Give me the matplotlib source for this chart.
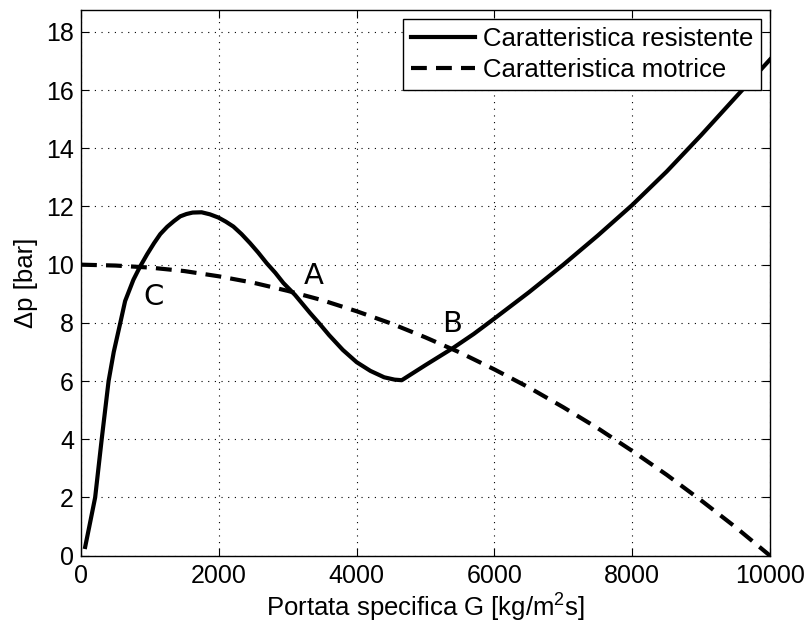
import matplotlib
matplotlib.use("Agg")
import matplotlib.pyplot as plt

plt.rcParams["font.family"] = ["Liberation Sans", "DejaVu Sans"]
plt.rcParams["mathtext.fontset"] = "custom"
plt.rcParams["mathtext.rm"] = "Liberation Sans"
plt.rcParams["mathtext.it"] = "Liberation Sans:italic"

# caratteristica resistente
g_res = [60, 120, 205, 300, 400, 475, 570, 640, 760, 856, 960, 1060, 1150,
         1250, 1350, 1440, 1530, 1620, 1750, 1870, 1993, 2100, 2211, 2330,
         2453, 2570, 2695, 2820, 2937, 3106, 3324, 3469, 3600, 3800, 4000,
         4200, 4400, 4550, 4655, 5000, 5395, 5700, 6000, 6500, 7000, 7500,
         8000, 8500, 9000, 9500, 10000]
dp_res = [0.3, 1.0, 2.0, 4.0, 6.0, 7.0, 8.0, 8.75, 9.48, 9.93, 10.36, 10.74,
          11.05, 11.3, 11.5, 11.66, 11.74, 11.79, 11.8, 11.73, 11.62, 11.48,
          11.31, 11.05, 10.74, 10.42, 10.05, 9.72, 9.37, 8.96, 8.34, 7.95,
          7.58, 7.07, 6.65, 6.35, 6.13, 6.05, 6.03, 6.55, 7.13, 7.62, 8.15,
          9.05, 10.0, 11.0, 12.05, 13.2, 14.45, 15.75, 17.05]

# caratteristica motrice
g_mot = [0, 500, 1000, 1500, 2000, 2500, 3000, 3500, 4000, 4500, 5000, 5500,
         6000, 6500, 7000, 7500, 8000, 8500, 9000, 9500, 10000]
dp_mot = [10.0, 9.97, 9.9, 9.78, 9.6, 9.38, 9.1, 8.78, 8.4, 7.98, 7.5, 6.98,
          6.4, 5.78, 5.1, 4.38, 3.6, 2.78, 1.9, 0.98, 0.0]

points = ["C", "A", "B"]
points_g = [1060, 3372, 5380]
points_dp = [8.9, 9.6, 7.97]

fig = plt.figure(figsize=(8.07, 6.26), dpi=100)
ax = fig.add_axes([0.1004, 0.1123, 0.8538, 0.8717])

ax.plot(g_res, dp_res, color="k", lw=3, solid_joinstyle="round",
        label="Caratteristica resistente")
ax.plot(g_mot, dp_mot, color="k", lw=3, ls=(0, (3.8, 2.2)),
        label="Caratteristica motrice")

for name, g, dp in zip(points, points_g, points_dp):
    ax.text(g, dp, name, fontsize=21, family="DejaVu Sans",
            ha="center", va="center")

ax.set_xlim(0, 10000)
ax.set_ylim(0, 18.75)
ax.set_xticks(range(0, 10001, 2000))
ax.set_yticks(range(0, 19, 2))
ax.grid(True, color="k", ls=(0, (1, 5)), lw=0.8)
ax.tick_params(direction="in", length=6, width=0.8, labelsize=18,
               top=True, right=True)
ax.tick_params(axis="y", pad=5)
ax.tick_params(axis="x", pad=6)
for s in ax.spines.values():
    s.set_linewidth(1.0)

ax.set_xlabel(r"Portata specifica G [kg/m$^2$s]", fontsize=18.5, labelpad=3)
ax.set_ylabel(r"Δp [bar]", fontsize=18.5, labelpad=6)

leg = ax.legend(loc="upper right", fontsize=18.5, fancybox=False,
                edgecolor="k", framealpha=1, borderaxespad=0.35,
                handlelength=2.5, handletextpad=0.3, labelspacing=0.3,
                borderpad=0.3)
leg.get_frame().set_linewidth(1.0)

fig.savefig("out.png", dpi=100)
